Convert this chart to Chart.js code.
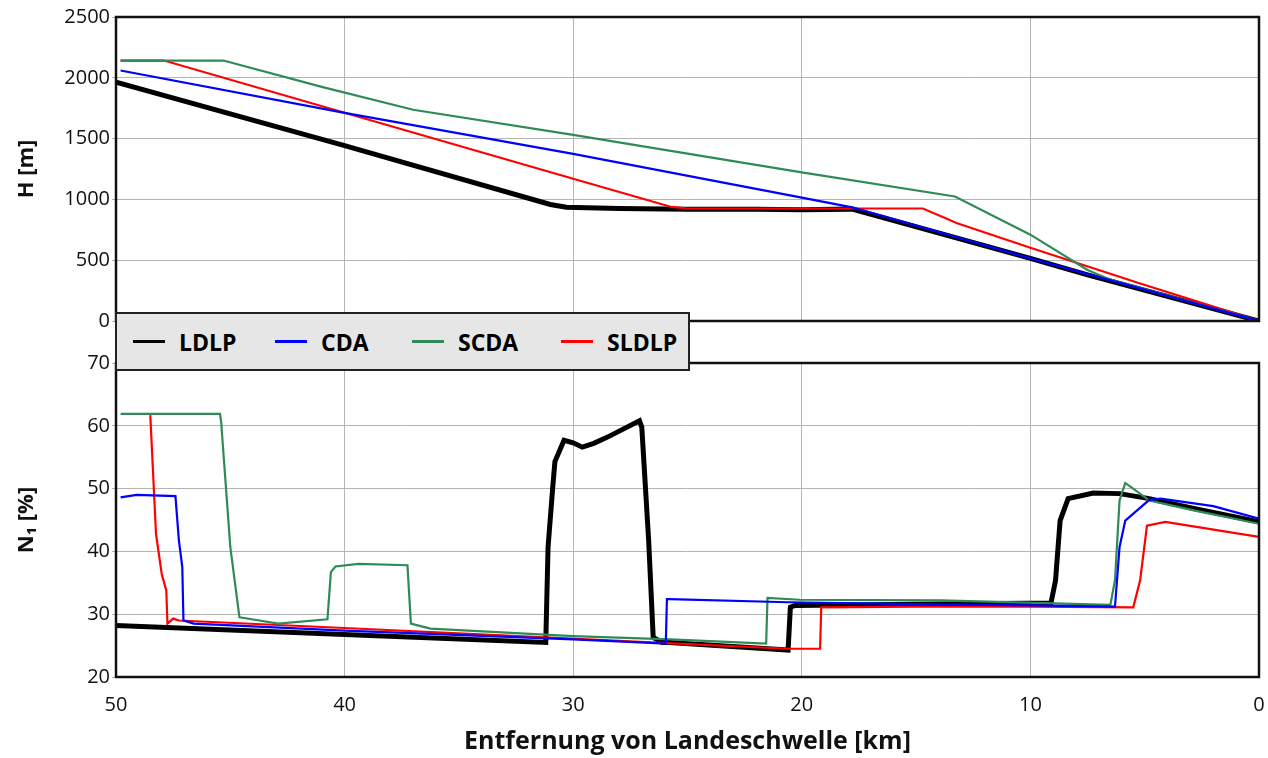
<!DOCTYPE html>
<html>
<head>
<meta charset="utf-8">
<script src="https://cdn.jsdelivr.net/npm/chart.js@4.4.1/dist/chart.umd.min.js"></script>
<style>
  body { margin: 0; background: #fff; width: 1268px; height: 758px; position: relative; overflow: hidden; font-family: "Open Sans", sans-serif; }
  .wrap { position: absolute; left: 0; width: 1268px; }
  #topWrap { top: 0; height: 335px; }
  #botWrap { top: 340px; height: 418px; }
  #legend {
    position: absolute; left: 115px; top: 312px; width: 571px; height: 55px;
    background: #e6e6e6; border: 2px solid #222; display: flex; align-items: center;
    font-weight: bold; font-size: 23px; color: #000;
  }
  #legend .item { display: flex; align-items: center; position: absolute; }
  #legend .swatch { width: 32px; height: 3px; margin-right: 14px; }
</style>
</head>
<body>
<div class="wrap" id="topWrap"><canvas id="heightChart"></canvas></div>
<div class="wrap" id="botWrap"><canvas id="thrustChart"></canvas></div>
<div id="legend"></div>
<script>
// distance to threshold [km] and altitude H [m]
const hKmLDLP = [50, 40, 31, 30.3, 28, 25, 22, 20, 17.8, 10, 7.5, 0];
const hLDLP = [1965, 1442, 958, 935, 925, 918, 920, 915, 920, 515, 380, 0];
const hKmCDA = [49.8, 40, 30, 20, 17.8, 10, 0];
const hCDA = [2060, 1712, 1375, 1015, 935, 515, 0];
const hKmSCDA = [49.8, 45.3, 41, 37, 30, 20, 13.3, 10, 7.5, 6.5, 0];
const hSCDA = [2142, 2142, 1925, 1737, 1530, 1222, 1024, 710, 420, 340, 0];
const hKmSLDLP = [49.8, 47.9, 40, 30, 25.7, 25, 20, 14.7, 13.2, 10, 5.2, 0];
const hSLDLP = [2142, 2142, 1713, 1170, 938, 925, 925, 925, 804, 603, 308, 0];

// distance to threshold [km] and fan speed N1 [%]
const nKmLDLP = [50, 31.2, 31.1, 30.9, 30.8, 30.4, 30, 29.6, 29.1, 28.5, 27.1, 27, 26.7, 26.5, 26.1, 25.8, 20.6, 20.5, 20.3, 15, 9.1, 8.9, 8.7, 8.35, 7.25, 6.1, 4.8, 2.8, 0];
const nLDLP = [28.2, 25.5, 40.7, 50, 54.3, 57.7, 57.3, 56.6, 57.2, 58.2, 60.8, 59.8, 41.8, 26.3, 25.5, 25.5, 24.3, 31.1, 31.4, 31.6, 31.8, 35.4, 44.9, 48.4, 49.3, 49.2, 48.4, 46.8, 44.7];
const nKmCDA = [49.8, 49.1, 47.4, 47.25, 47.1, 47.05, 46.6, 40, 30, 25.95, 25.9, 25.8, 20.6, 15, 10, 6.3, 6.1, 5.85, 4.8, 4.3, 2, 0];
const nCDA = [48.6, 49.0, 48.8, 41.8, 37.5, 29, 28.5, 27.4, 26, 25.3, 32.4, 32.4, 31.9, 31.6, 31.4, 31.2, 40.7, 44.9, 48.2, 48.4, 47.2, 45.2];
const nKmSCDA = [49.8, 45.45, 45.4, 45, 44.6, 44.4, 42.9, 40.75, 40.6, 40.4, 39.4, 37.25, 37.1, 36.25, 30, 25.75, 21.56, 21.5, 20.1, 13.9, 6.5, 6.3, 6.1, 5.85, 5.4, 4.8, 2.8, 0];
const nSCDA = [61.9, 61.9, 60.6, 40.7, 29.5, 29.4, 28.5, 29.2, 36.7, 37.6, 38, 37.8, 28.5, 27.7, 26.5, 26.0, 25.3, 32.6, 32.3, 32.2, 31.5, 35.4, 48.1, 50.9, 49.7, 48.1, 46.5, 44.4];
const nKmSLDLP = [48.5, 48.25, 48, 47.8, 47.75, 47.5, 47.25, 40, 31.25, 26.6, 20.6, 19.2, 19.15, 15, 10, 5.5, 5.2, 4.9, 4.1, 0];
const nSLDLP = [61.7, 42.8, 36.4, 33.8, 28.5, 29.3, 29, 27.8, 26.3, 25.5, 24.5, 24.5, 31.1, 31.2, 31.2, 31.1, 35.4, 44.1, 44.7, 42.3];

const seriesNames = ['LDLP', 'CDA', 'SCDA', 'SLDLP'];
const seriesColors = ['#000000', '#0000ff', '#2e8b57', '#ff0000'];
const seriesWidths = [5, 2.2, 2.2, 2.2];

const xTicks = [50, 40, 30, 20, 10, 0];

function pts(xs, ys) {
    return xs.map((x, i) => ({ x: x, y: ys[i] }));
}

function makeDatasets(groups) {
    // draw thick black last so it sits on top, like the original
    const order = [1, 2, 3, 0];
    return order.map(i => ({
        label: seriesNames[i],
        data: pts(groups[i][0], groups[i][1]),
        borderColor: seriesColors[i],
        borderWidth: seriesWidths[i],
        pointRadius: 0,
        tension: 0,
        fill: false
    }));
}

const framePlugin = {
    id: 'frame',
    afterDraw(chart) {
        const a = chart.chartArea;
        const ctx = chart.ctx;
        ctx.save();
        ctx.strokeStyle = '#111';
        ctx.lineWidth = 2.5;
        ctx.strokeRect(a.left, a.top, a.right - a.left, a.bottom - a.top);
        ctx.restore();
    }
};

const tickFont = { family: 'Open Sans', size: 20 };
const titleFont = { family: 'Open Sans', size: 22, weight: 'bold' };
const gridColor = '#b4b4b4';

function xScale(showLabels) {
    return {
        type: 'linear',
        reverse: true,
        min: 0,
        max: 50,
        afterBuildTicks: s => { s.ticks = xTicks.map(v => ({ value: v })); },
        // invisible tick marks push the labels down without widening the side padding
        grid: { color: gridColor, drawTicks: showLabels, tickLength: 14, tickColor: 'rgba(0,0,0,0)' },
        border: { display: false },
        ticks: { display: showLabels, font: tickFont, color: '#111', padding: 2, maxRotation: 0 },
        title: {
            display: showLabels,
            text: 'Entfernung von Landeschwelle [km]',
            font: { family: 'Open Sans', size: 25, weight: 'bold' },
            color: '#111',
            padding: { top: 0, bottom: 1 }
        },
        afterFit: s => { s.height = showLabels ? 81 : 0; }
    };
}

function yScale(min, max, step, title) {
    return {
        min: min,
        max: max,
        ticks: { stepSize: step, font: tickFont, color: '#111', padding: 2, callback: v => String(v) },
        grid: { color: gridColor, tickLength: 4 },
        border: { display: false },
        title: { display: true, text: title, font: titleFont, color: '#111', padding: { top: 14, bottom: 0 } },
        afterFit: s => { s.width = 116; }
    };
}

function baseOptions(yOpts, showX, padTop, padBottom) {
    return {
        responsive: true,
        maintainAspectRatio: false,
        animation: false,
        layout: { padding: { top: padTop, right: 9, bottom: padBottom, left: 0 } },
        plugins: { legend: { display: false }, tooltip: { enabled: false } },
        scales: { x: xScale(showX), y: yOpts }
    };
}

new Chart(document.getElementById('heightChart'), {
    type: 'line',
    data: {
        datasets: makeDatasets([
            [hKmLDLP, hLDLP], [hKmCDA, hCDA], [hKmSCDA, hSCDA], [hKmSLDLP, hSLDLP]
        ])
    },
    options: baseOptions(yScale(0, 2500, 500, 'H [m]'), false, 17, 7),
    plugins: [framePlugin]
});

new Chart(document.getElementById('thrustChart'), {
    type: 'line',
    data: {
        datasets: makeDatasets([
            [nKmLDLP, nLDLP], [nKmCDA, nCDA], [nKmSCDA, nSCDA], [nKmSLDLP, nSLDLP]
        ])
    },
    options: baseOptions(yScale(20, 70, 10, 'N\u2081 [%]'), true, 23, 0),
    plugins: [framePlugin]
});

// legend box
const legendLeft = [16, 158, 295, 444];
const legendEl = document.getElementById('legend');
seriesNames.forEach((name, i) => {
    const item = document.createElement('div');
    item.className = 'item';
    item.style.left = legendLeft[i] + 'px';
    const sw = document.createElement('span');
    sw.className = 'swatch';
    sw.style.background = seriesColors[i];
    const tx = document.createElement('span');
    tx.textContent = name;
    item.appendChild(sw);
    item.appendChild(tx);
    legendEl.appendChild(item);
});
</script>
</body>
</html>
